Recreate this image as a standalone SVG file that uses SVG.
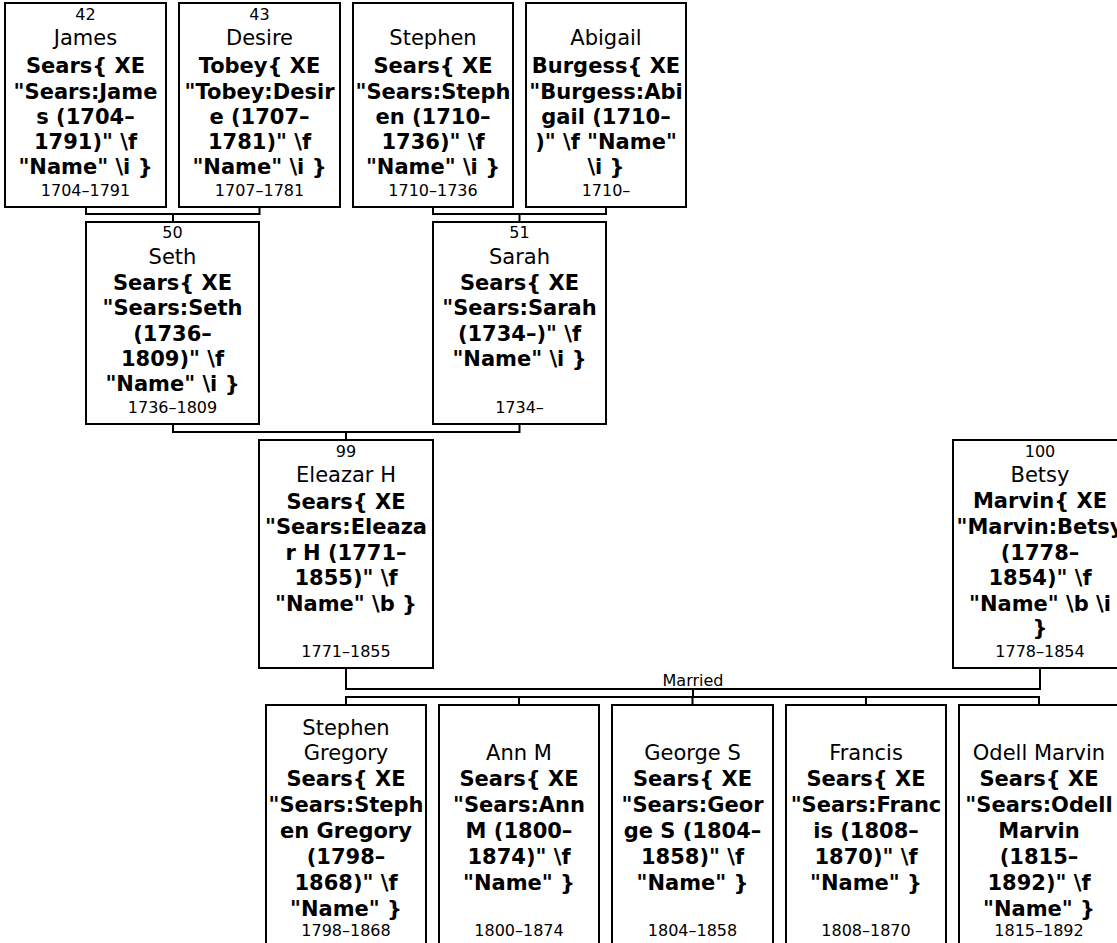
<svg xmlns="http://www.w3.org/2000/svg" width="1117" height="943" viewBox="0 0 1117 943">
<style>
rect.box{fill:#fff;stroke:#000;stroke-width:2}
text{font-family:"DejaVu Sans","Verdana",sans-serif;text-anchor:middle;fill:#000}
.s{font-size:16px}
.m{font-size:16px}
.nm{font-size:21px}
.b{font-size:21px;font-weight:bold}
.conn path{fill:none;stroke:#000;stroke-width:2}
</style>
<rect width="1117" height="943" fill="#fff"/>
<g class="conn" id="connectors">
<path d="M86,207V214H259.5V207M173,214V222"/>
<path d="M433,207V214H606V207M519.5,214V222"/>
<path d="M173,424V432H519.5V424M346,432V440"/>
<path d="M346,668V689H1040V668M693,689V697"/>
<path d="M346,705V697H1039V705M519,697V705M692.5,697V705M866,697V705"/>
<text class="m" x="693" y="686">Married</text>
</g>
<g id="n42">
<rect class="box" x="5" y="3" width="161" height="204"/>
<text class="s" x="85.5" y="20">42</text>
<text class="nm" x="85.5" y="45">James</text>
<text class="b" x="85.5" y="73">Sears{ XE</text>
<text class="b" x="85.5" y="99">"Sears:Jame</text>
<text class="b" x="85.5" y="124">s (1704–</text>
<text class="b" x="85.5" y="149">1791)" \f</text>
<text class="b" x="85.5" y="174">"Name" \i }</text>
<text class="s" x="85.5" y="196">1704–1791</text>
</g>
<g id="n43">
<rect class="box" x="179" y="3" width="161" height="204"/>
<text class="s" x="259.5" y="20">43</text>
<text class="nm" x="259.5" y="45">Desire</text>
<text class="b" x="259.5" y="73">Tobey{ XE</text>
<text class="b" x="259.5" y="99">"Tobey:Desir</text>
<text class="b" x="259.5" y="124">e (1707–</text>
<text class="b" x="259.5" y="149">1781)" \f</text>
<text class="b" x="259.5" y="174">"Name" \i }</text>
<text class="s" x="259.5" y="196">1707–1781</text>
</g>
<g id="nStephen">
<rect class="box" x="353" y="3" width="160" height="204"/>
<text class="nm" x="433" y="45">Stephen</text>
<text class="b" x="433" y="73">Sears{ XE</text>
<text class="b" x="433" y="99">"Sears:Steph</text>
<text class="b" x="433" y="124">en (1710–</text>
<text class="b" x="433" y="149">1736)" \f</text>
<text class="b" x="433" y="174">"Name" \i }</text>
<text class="s" x="433" y="196">1710–1736</text>
</g>
<g id="nAbigail">
<rect class="box" x="526" y="3" width="160" height="204"/>
<text class="nm" x="606" y="45">Abigail</text>
<text class="b" x="606" y="73">Burgess{ XE</text>
<text class="b" x="606" y="99">"Burgess:Abi</text>
<text class="b" x="606" y="124">gail (1710–</text>
<text class="b" x="606" y="149">)" \f "Name"</text>
<text class="b" x="606" y="174">\i }</text>
<text class="s" x="606" y="196">1710–</text>
</g>
<g id="n50">
<rect class="box" x="86" y="222" width="173" height="202"/>
<text class="s" x="172.5" y="238">50</text>
<text class="nm" x="172.5" y="264">Seth</text>
<text class="b" x="172.5" y="290">Sears{ XE</text>
<text class="b" x="172.5" y="315">"Sears:Seth</text>
<text class="b" x="172.5" y="341">(1736–</text>
<text class="b" x="172.5" y="366">1809)" \f</text>
<text class="b" x="172.5" y="391">"Name" \i }</text>
<text class="s" x="172.5" y="413">1736–1809</text>
</g>
<g id="n51">
<rect class="box" x="433" y="222" width="173" height="202"/>
<text class="s" x="519.5" y="238">51</text>
<text class="nm" x="519.5" y="264">Sarah</text>
<text class="b" x="519.5" y="290">Sears{ XE</text>
<text class="b" x="519.5" y="315">"Sears:Sarah</text>
<text class="b" x="519.5" y="341">(1734–)" \f</text>
<text class="b" x="519.5" y="366">"Name" \i }</text>
<text class="s" x="519.5" y="413">1734–</text>
</g>
<g id="n99">
<rect class="box" x="259" y="440" width="174" height="228"/>
<text class="s" x="346" y="457">99</text>
<text class="nm" x="346" y="482">Eleazar H</text>
<text class="b" x="346" y="509">Sears{ XE</text>
<text class="b" x="346" y="534">"Sears:Eleaza</text>
<text class="b" x="346" y="560">r H (1771–</text>
<text class="b" x="346" y="585">1855)" \f</text>
<text class="b" x="346" y="611">"Name" \b }</text>
<text class="s" x="346" y="657">1771–1855</text>
</g>
<g id="n100">
<rect class="box" x="953" y="440" width="174" height="228"/>
<text class="s" x="1040" y="457">100</text>
<text class="nm" x="1040" y="482">Betsy</text>
<text class="b" x="1040" y="508">Marvin{ XE</text>
<text class="b" x="1040" y="534">"Marvin:Betsy</text>
<text class="b" x="1040" y="560">(1778–</text>
<text class="b" x="1040" y="585">1854)" \f</text>
<text class="b" x="1040" y="611">"Name" \b \i</text>
<text class="b" x="1040" y="635">}</text>
<text class="s" x="1040" y="657">1778–1854</text>
</g>
<g id="nStephenGregory">
<rect class="box" x="266" y="705" width="160" height="250"/>
<text class="nm" x="346" y="735">Stephen</text>
<text class="nm" x="346" y="760">Gregory</text>
<text class="b" x="346" y="786">Sears{ XE</text>
<text class="b" x="346" y="812">"Sears:Steph</text>
<text class="b" x="346" y="838">en Gregory</text>
<text class="b" x="346" y="864">(1798–</text>
<text class="b" x="346" y="890">1868)" \f</text>
<text class="b" x="346" y="916">"Name" }</text>
<text class="s" x="346" y="936">1798–1868</text>
</g>
<g id="nAnnM">
<rect class="box" x="439" y="705" width="160" height="250"/>
<text class="nm" x="519" y="760">Ann M</text>
<text class="b" x="519" y="786">Sears{ XE</text>
<text class="b" x="519" y="812">"Sears:Ann</text>
<text class="b" x="519" y="838">M (1800–</text>
<text class="b" x="519" y="864">1874)" \f</text>
<text class="b" x="519" y="890">"Name" }</text>
<text class="s" x="519" y="936">1800–1874</text>
</g>
<g id="nGeorgeS">
<rect class="box" x="612" y="705" width="161" height="250"/>
<text class="nm" x="692.5" y="760">George S</text>
<text class="b" x="692.5" y="786">Sears{ XE</text>
<text class="b" x="692.5" y="812">"Sears:Geor</text>
<text class="b" x="692.5" y="838">ge S (1804–</text>
<text class="b" x="692.5" y="864">1858)" \f</text>
<text class="b" x="692.5" y="890">"Name" }</text>
<text class="s" x="692.5" y="936">1804–1858</text>
</g>
<g id="nFrancis">
<rect class="box" x="786" y="705" width="160" height="250"/>
<text class="nm" x="866" y="760">Francis</text>
<text class="b" x="866" y="786">Sears{ XE</text>
<text class="b" x="866" y="812">"Sears:Franc</text>
<text class="b" x="866" y="838">is (1808–</text>
<text class="b" x="866" y="864">1870)" \f</text>
<text class="b" x="866" y="890">"Name" }</text>
<text class="s" x="866" y="936">1808–1870</text>
</g>
<g id="nOdellMarvin">
<rect class="box" x="959" y="705" width="160" height="250"/>
<text class="nm" x="1039" y="760">Odell Marvin</text>
<text class="b" x="1039" y="786">Sears{ XE</text>
<text class="b" x="1039" y="812">"Sears:Odell</text>
<text class="b" x="1039" y="838">Marvin</text>
<text class="b" x="1039" y="864">(1815–</text>
<text class="b" x="1039" y="890">1892)" \f</text>
<text class="b" x="1039" y="916">"Name" }</text>
<text class="s" x="1039" y="936">1815–1892</text>
</g>
</svg>
